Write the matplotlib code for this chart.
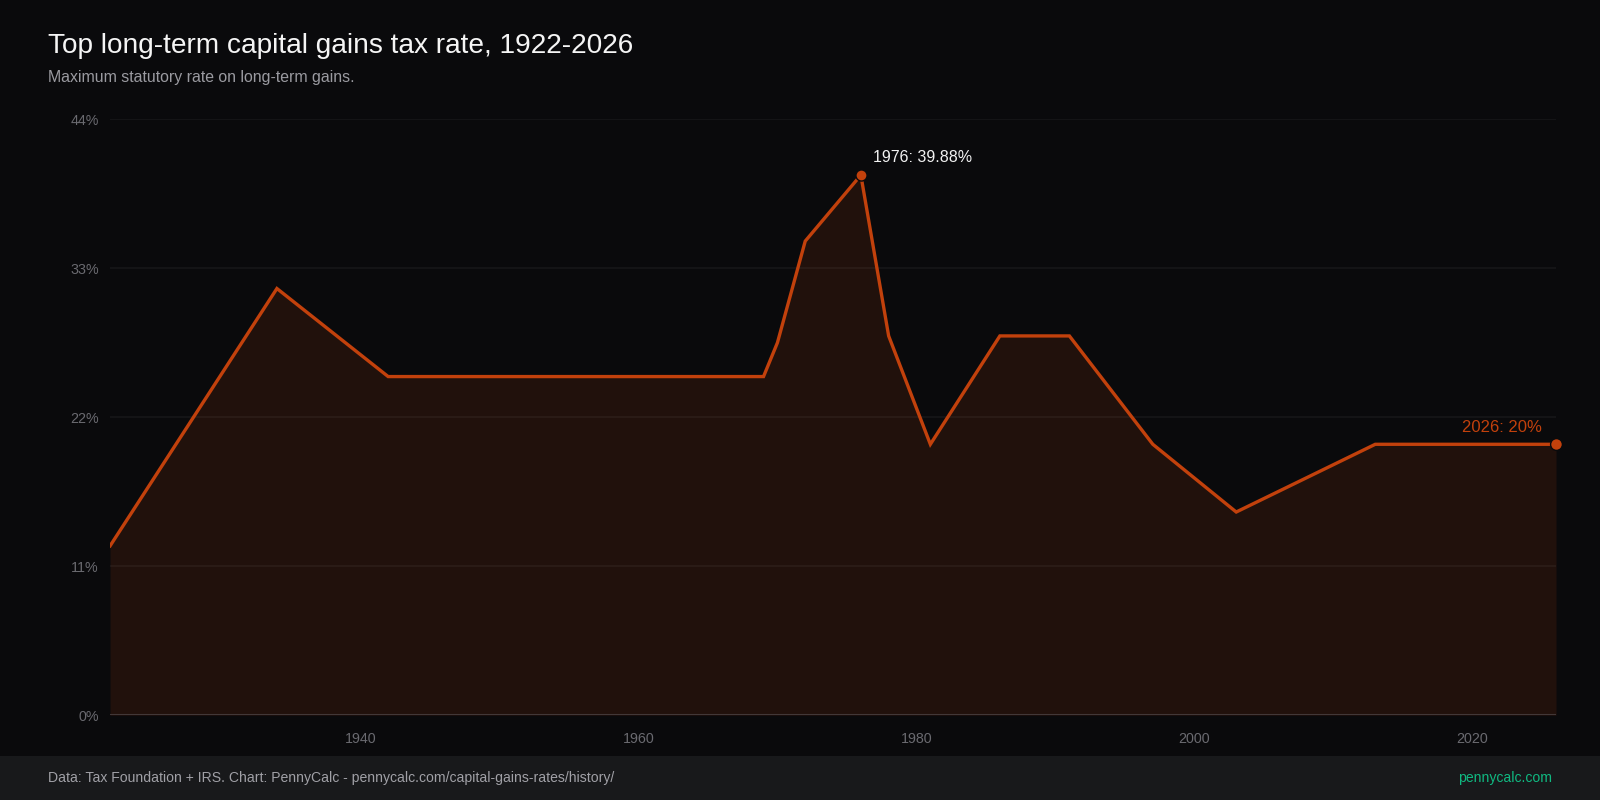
import matplotlib
matplotlib.use("Agg")
import matplotlib.pyplot as plt
from matplotlib.ticker import FuncFormatter

years = [1922, 1934, 1942, 1969, 1970, 1972, 1976, 1978, 1981, 1986, 1991, 1997, 2003, 2013, 2026]
rates = [12.5, 31.5, 25.0, 25.0, 27.5, 35.0, 39.875, 28.0, 20.0, 28.0, 28.0, 20.0, 15.0, 20.0, 20.0]
y_ticks = [0, 11, 22, 33, 44]
x_ticks = [1940, 1960, 1980, 2000, 2020]

title = "Top long-term capital gains tax rate, 1922-2026"
subtitle = "Maximum statutory rate on long-term gains."
footer_left = "Data: Tax Foundation + IRS. Chart: PennyCalc - pennycalc.com/capital-gains-rates/history/"
footer_right = "pennycalc.com"

BG = "#0a0a0c"
FOOT = "#18191b"
LINE = "#c2410c"

plt.rcParams['font.family'] = ['Liberation Sans', 'DejaVu Sans']

fig = plt.figure(figsize=(16, 8), dpi=100, facecolor=BG)
ax = fig.add_axes([0.0688, 0.106, 0.9037, 0.745])
ax.set_facecolor(BG)

ax.fill_between(years, rates, 0, color=LINE, alpha=0.13, linewidth=0, zorder=1)
ax.plot(years, rates, color=LINE, linewidth=2.4, solid_joinstyle='miter', zorder=3)

# peak + last point markers
peak_i = rates.index(max(rates))
ax.plot([years[peak_i]], [rates[peak_i]], 'o', color=LINE, markersize=8,
        markeredgecolor=BG, markeredgewidth=1.0, zorder=4, clip_on=False)
ax.plot([years[-1]], [rates[-1]], 'o', color=LINE, markersize=8.5,
        markeredgecolor=BG, markeredgewidth=1.0, zorder=4, clip_on=False)

ax.annotate(f"{years[peak_i]}: {rates[peak_i]:.2f}%", (years[peak_i], rates[peak_i]),
            xytext=(9, 7), textcoords='offset points', color='#f2f2f2',
            fontsize=11.5, ha='left', va='bottom')
ax.annotate(f"{years[-1]}: {rates[-1]:g}%", (years[-1], rates[-1]),
            xytext=(-10, 7), textcoords='offset points', color=LINE,
            fontsize=12, ha='right', va='bottom')

ax.set_xlim(1922, 2026)
ax.set_ylim(0, 44)
ax.set_yticks(y_ticks)
ax.set_xticks(x_ticks)
ax.yaxis.set_major_formatter(FuncFormatter(lambda v, p: f"{v:g}%"))
ax.tick_params(axis='both', length=0, colors='#6a6a70', labelsize=10.3)
ax.tick_params(axis='y', pad=8)
ax.tick_params(axis='x', pad=12)
for s in ax.spines.values():
    s.set_visible(False)
ax.grid(axis='y', color='#ffffff', alpha=0.05, linewidth=1.2, zorder=2)
ax.set_axisbelow(False)
ax.axhline(0, color='#3a3030', linewidth=1.5, zorder=2)

fig.text(0.03, 0.943, title, color='#f5f5f5', fontsize=20.2, ha='left', va='center')
fig.text(0.03, 0.903, subtitle, color='#9a9aa0', fontsize=11.4, ha='left', va='center')

fig.patches.append(plt.Rectangle((0, 0), 1, 0.055, transform=fig.transFigure,
                                 facecolor=FOOT, edgecolor='none', zorder=0))
fig.text(0.03, 0.0275, footer_left, color='#a0a0a6', fontsize=10.1, ha='left', va='center')
fig.text(0.97, 0.0275, footer_right, color='#10b981', fontsize=10.1, ha='right', va='center')

fig.savefig("out.png", dpi=100, facecolor=BG)
